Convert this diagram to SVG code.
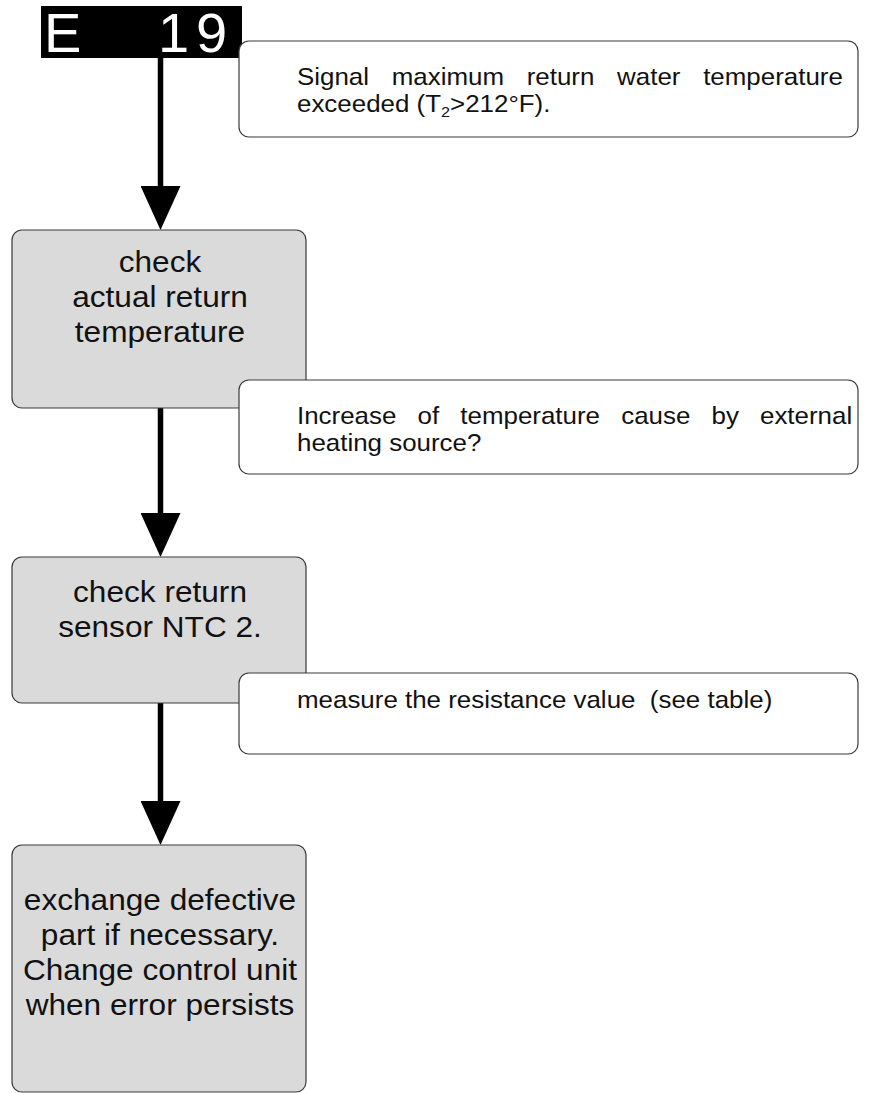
<svg xmlns="http://www.w3.org/2000/svg" width="873" height="1093" viewBox="0 0 873 1093">
<style>
.box{fill:#dadadb;stroke:#3a3a3a;stroke-width:1.2}
.call{fill:#fff;stroke:#3a3a3a;stroke-width:1.2}
.bt{font-family:"Liberation Sans",Arial,sans-serif;font-size:29px;fill:#111;text-anchor:middle}
.ct{font-family:"Liberation Sans",Arial,sans-serif;font-size:24px;fill:#111}
.conn{stroke:#000;stroke-width:5.5;fill:none;marker-end:url(#ah)}
</style>
<defs>
<marker id="ah" markerUnits="userSpaceOnUse" markerWidth="44" markerHeight="40" viewBox="0 0 44 40" refX="0" refY="20" orient="auto">
<path d="M0,0 L44,20 L0,40 z" fill="#000"/>
</marker>
</defs>
<rect width="873" height="1093" fill="#fff"/>

<g id="display">
<rect x="41" y="6" width="201" height="52" fill="#000"/>
<text font-family="Liberation Sans,Arial,sans-serif" font-size="56" fill="#fff"><tspan x="44" y="52">E</tspan><tspan x="158" y="52">1</tspan><tspan x="196" y="52">9</tspan></text>
</g>

<g id="connectors">
<line class="conn" x1="160.5" y1="58" x2="160.5" y2="186"/>
<line class="conn" x1="160.5" y1="408" x2="160.5" y2="513"/>
<line class="conn" x1="160.5" y1="703" x2="160.5" y2="801"/>
</g>

<g id="box1">
<rect class="box" x="12" y="230" width="294" height="178" rx="10"/>
<g transform="translate(160 0) scale(1.09 1)">
<text class="bt" x="0" y="272">check</text>
<text class="bt" x="0" y="307">actual return</text>
<text class="bt" x="0" y="342">temperature</text>
</g>
</g>

<g id="box2">
<rect class="box" x="12" y="557" width="294" height="146" rx="10"/>
<g transform="translate(160 0) scale(1.09 1)">
<text class="bt" x="0" y="602">check return</text>
<text class="bt" x="0" y="637">sensor NTC 2.</text>
</g>
</g>

<g id="box3">
<rect class="box" x="12" y="845" width="294" height="247" rx="10"/>
<g transform="translate(160 0) scale(1.09 1)">
<text class="bt" x="0" y="910">exchange defective</text>
<text class="bt" x="0" y="945">part if necessary.</text>
<text class="bt" x="0" y="980">Change control unit</text>
<text class="bt" x="0" y="1015">when error persists</text>
</g>
</g>

<g id="note1">
<rect class="call" x="239" y="41" width="619" height="96" rx="10"/>
<g transform="translate(297 0) scale(1.08 1)">
<text class="ct" y="85"><tspan x="0">Signal</tspan><tspan x="87.7">maximum</tspan><tspan x="212.7">return</tspan><tspan x="296.4">water</tspan><tspan x="376.1">temperature</tspan></text>
<text class="ct" x="0" y="112">exceeded (T<tspan font-size="15" dy="5">2</tspan><tspan dy="-5">&gt;212°F).</tspan></text>
</g>
</g>

<g id="note2">
<rect class="call" x="239" y="380" width="619" height="94" rx="10"/>
<g transform="translate(297 0) scale(1.08 1)">
<text class="ct" y="424"><tspan x="0">Increase</tspan><tspan x="111.6">of</tspan><tspan x="151.2">temperature</tspan><tspan x="300.2">cause</tspan><tspan x="383.8">by</tspan><tspan x="428.7">external</tspan></text>
<text class="ct" x="0" y="451">heating source?</text>
</g>
</g>

<g id="note3">
<rect class="call" x="239" y="673" width="619" height="81" rx="10"/>
<g transform="translate(297 0) scale(1.08 1)">
<text class="ct" x="0" y="708" xml:space="preserve">measure the resistance value  (see table)</text>
</g>
</g>
</svg>
